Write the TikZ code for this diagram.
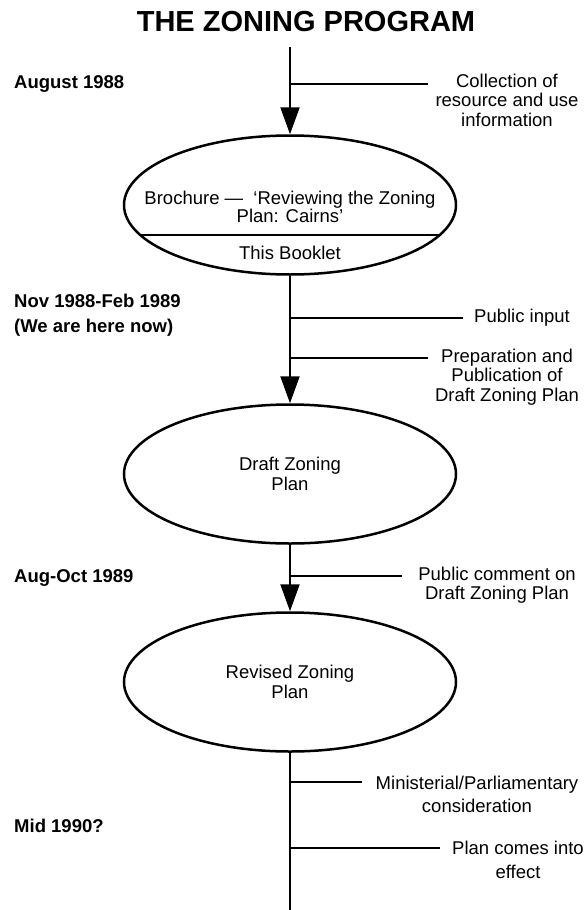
\documentclass[tikz,border=0pt]{standalone}
\usepackage{fontspec}
\setmainfont{Liberation Sans}
\usetikzlibrary{arrows.meta,shapes.geometric}
\begin{document}
\begin{tikzpicture}[x=1pt,y=-1pt,
  lw/.style={line width=2pt},
  ell/.style={draw,ellipse,line width=2.5pt,minimum width=332pt,minimum height=139pt,inner sep=0pt,align=center,font=\fontsize{18.5}{20}\selectfont},
  rlab/.style={align=center,font=\fontsize{18.5}{19.5}\selectfont,inner sep=0pt},
  llab/.style={anchor=west,align=left,font=\fontsize{18.5}{25}\selectfont\bfseries,inner sep=0pt},
  arr/.style={line width=2pt,-{Triangle[width=19pt,length=27pt]}},
]
\useasboundingbox (0,0) rectangle (586,910);

% title
\node[font=\fontsize{29}{31}\selectfont\bfseries] (title) at (306,22) {THE ZONING PROGRAM};

% ellipses
\node[ell] (e1) at (290,205) {};
\node[ell] (e2) at (290,474) {Draft Zoning\\Plan};
\node[ell] (e3) at (290,682) {Revised Zoning\\Plan};

% ellipse 1 content
\begin{scope}
  \clip (290,205) ellipse [x radius=165, y radius=68.5];
  \draw[line width=1.5pt] (100,235) -- (480,235);
\end{scope}
\node[align=center,font=\fontsize{18.5}{18.5}\selectfont,inner sep=0pt] (t1) at (290,207) {Brochure —\ \ ‘Reviewing the Zoning\\Plan: Cairns’};
\node[font=\fontsize{18.5}{20}\selectfont,inner sep=0pt] (t2) at (290,253) {This Booklet};

% main line coordinates
\coordinate (top) at (290,47);
\coordinate (bottom) at (290,910);
\coordinate (b1) at (290,84);  \coordinate (b1e) at (428,84);
\coordinate (b2) at (290,318); \coordinate (b2e) at (463,318);
\coordinate (b3) at (290,358); \coordinate (b3e) at (428,358);
\coordinate (b4) at (290,576); \coordinate (b4e) at (402,576);
\coordinate (b5) at (290,782); \coordinate (b5e) at (362,782);
\coordinate (b6) at (290,848); \coordinate (b6e) at (440,848);

\draw[arr] (top) -- (e1.north);
\draw[arr] (e1.south) -- (e2.north);
\draw[arr] (e2.south) -- (e3.north);
\draw[lw] (e3.south) -- (bottom);

\foreach \a in {1,...,6} { \draw[lw] (b\a) -- (b\a e); }

% right labels
\node[rlab] (l1) at (507,100) {Collection of\\resource and use\\information};
\node[rlab] (l2) at (522,318) {Public input};
\node[rlab] (l3) at (507,377) {Preparation and\\Publication of\\Draft Zoning Plan};
\node[rlab] (l4) at (497,585) {Public comment on\\Draft Zoning Plan};
\node[rlab,font=\fontsize{18.5}{23}\selectfont] (l5) at (477,794) {Ministerial/Parliamentary\\consideration};
\node[rlab,font=\fontsize{18.5}{24}\selectfont] (l6) at (518,860) {Plan comes into\\effect};

% left labels
\node[llab] (d1) at (14,84) {August 1988};
\node[llab] (d2) at (14,315) {Nov 1988-Feb 1989\\(We are here now)};
\node[llab] (d3) at (14,578) {Aug-Oct 1989};
\node[llab] (d4) at (14,826) {Mid 1990?};
\end{tikzpicture}
\end{document}
